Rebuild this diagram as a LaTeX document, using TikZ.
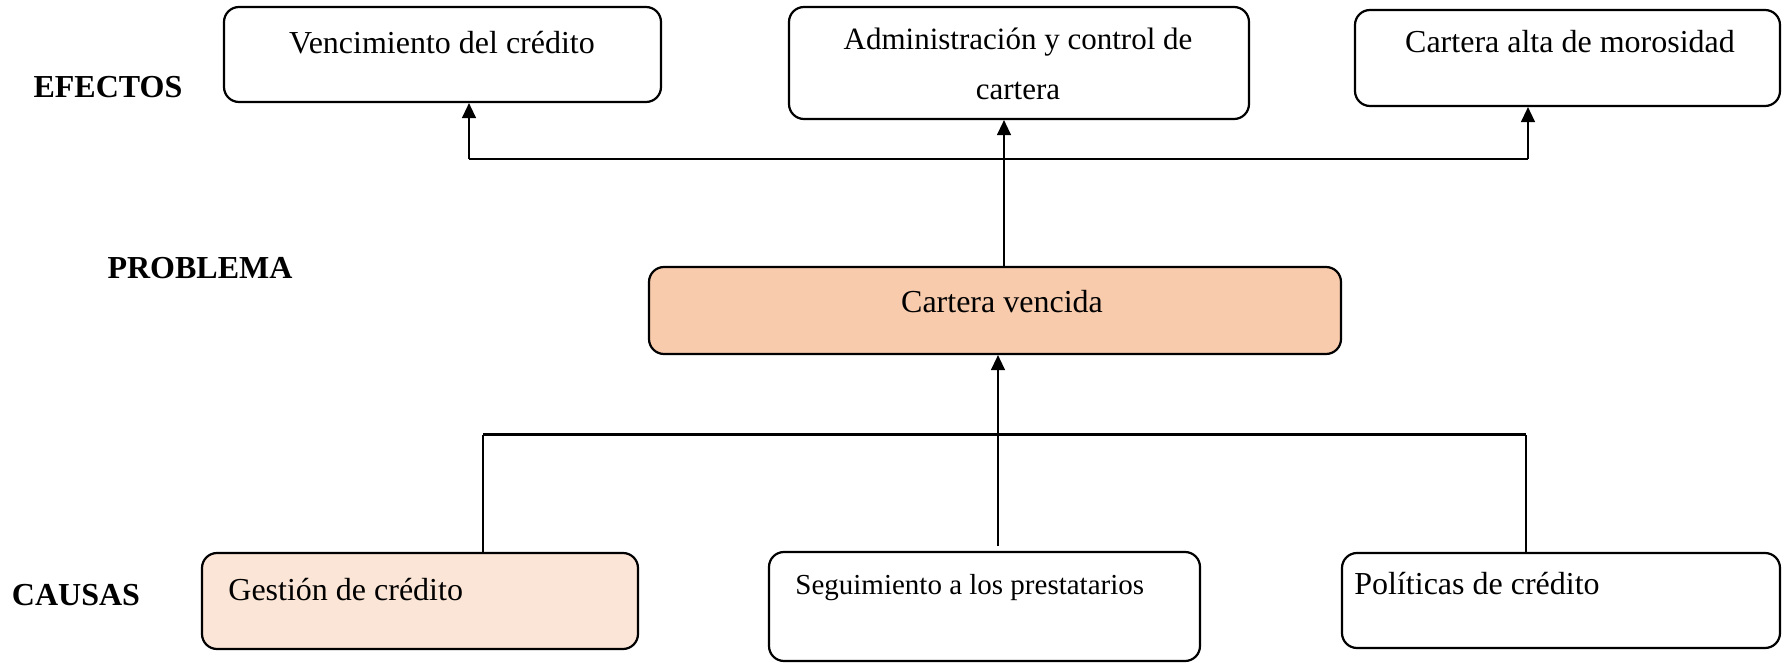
\documentclass[tikz,border=0pt]{standalone}
\usepackage{fontspec}
\setmainfont{Liberation Serif}
\usetikzlibrary{arrows.meta}
\definecolor{peach}{HTML}{F8CBAD}
\definecolor{lightpeach}{HTML}{FBE5D6}
\begin{document}
\begin{tikzpicture}[x=0.5pt,y=-0.5pt,
  box/.style={draw=black,line width=1.1pt,rounded corners=7.5pt,inner sep=0pt},
  txt/.style={inner sep=0pt,anchor=base,font=\fontsize{16}{25}\selectfont},
  ltxt/.style={txt,anchor=base west},
  lbl/.style={inner sep=0pt,anchor=base,font=\fontsize{16}{20}\selectfont\bfseries},
  conn/.style={line width=0.65pt},
  arr/.style={line width=0.65pt,-{Triangle[length=7.5pt,width=7pt]}}]
\useasboundingbox (0,0) rectangle (1785,663);
% effects
\node[box,minimum width=218.5pt,minimum height=47.5pt] (v) at (442.5,54.5) {};
\node[txt] (vt) at (442,54) {Vencimiento del crédito};
\node[box,minimum width=230pt,minimum height=56pt] (a) at (1019,63) {};
\node[txt,font=\fontsize{15.5}{25}\selectfont] (at1) at (1018,50) {Administración y control de};
\node[txt,font=\fontsize{15.5}{25}\selectfont] (at2) at (1018,100) {cartera};
\node[box,minimum width=212.5pt,minimum height=48pt] (c) at (1567.5,58) {};
\node[txt] (ct) at (1570,53) {Cartera alta de morosidad};
% problem
\node[box,fill=peach,minimum width=346pt,minimum height=43.5pt] (p) at (995,310.5) {};
\node[txt] (pt) at (1002,313) {Cartera vencida};
% causes
\node[box,fill=lightpeach,minimum width=218pt,minimum height=48pt] (g) at (420,601) {};
\node[ltxt] (gt) at (228,600) {Gestión de crédito};
\node[box,minimum width=215.5pt,minimum height=54.5pt] (s) at (984.5,606.5) {};
\node[ltxt,font=\fontsize{14.5}{20}\selectfont] (st) at (795,595) {Seguimiento a los prestatarios};
\node[box,minimum width=219pt,minimum height=47.5pt] (pol) at (1561,600.5) {};
\node[ltxt] (polt) at (1354,595) {Políticas de crédito};
% labels
\node[lbl] (ef) at (108,98) {EFECTOS};
\node[lbl] (pr) at (200,279) {PROBLEMA};
\node[lbl] (ca) at (76,605) {CAUSAS};
% top connectors
\coordinate (hl) at (469,159);
\coordinate (hr) at (1528,159);
\coordinate (mid) at (1004,0);
\draw[conn] (hl) -- (hr);
\draw[arr] (hl) -- (hl |- v.south);
\draw[arr] (hr) -- (hr |- c.south);
\draw[arr] (mid |- p.north) -- (mid |- a.south);
% bottom connectors
\coordinate (bl) at (483,435);
\coordinate (br) at (1526,435);
\coordinate (bm) at (998,546);
\draw[line width=1.5pt] (bl) -- (br);
\draw[conn] (bl) -- (bl |- g.north);
\draw[conn] (br) -- (br |- pol.north);
\draw[arr] (bm) -- (bm |- p.south);
\end{tikzpicture}
\end{document}
